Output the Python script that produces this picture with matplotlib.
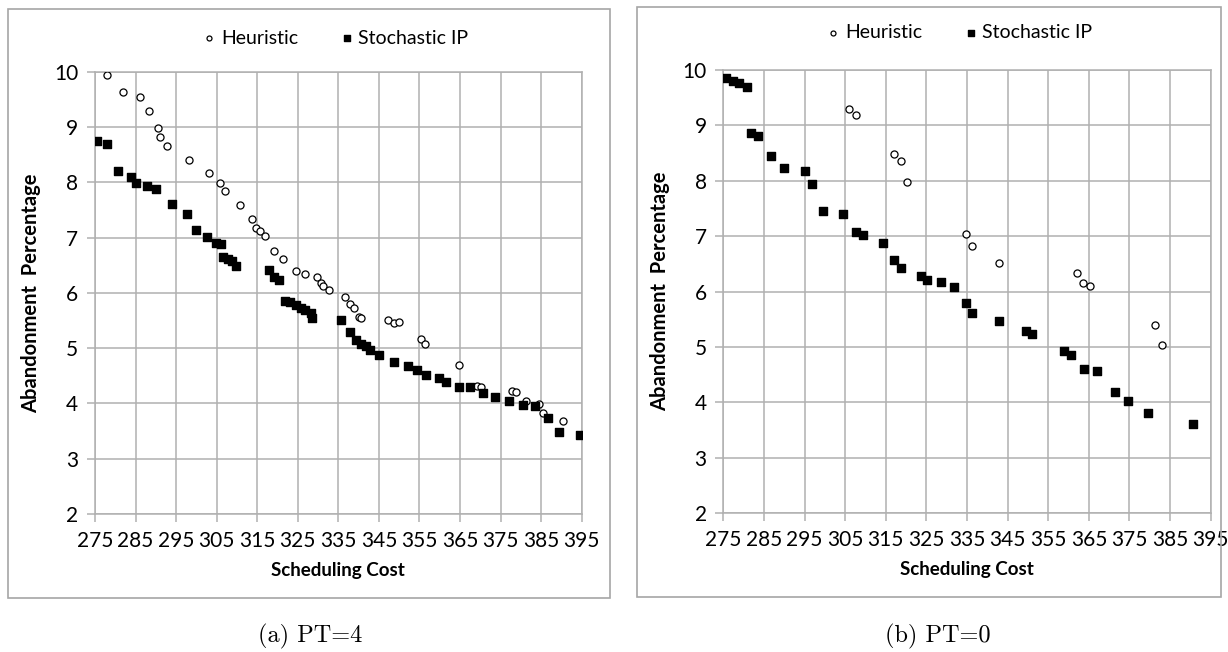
import matplotlib.pyplot as plt
from matplotlib.patches import Rectangle

plt.rcParams['font.family'] = ['Lato', 'DejaVu Sans']

# (a) PT=4
heur_a_x = [277.9, 281.8, 286.2, 288.2, 290.5, 291.1, 292.8, 298.2, 303.1, 305.8,
            307.0, 310.7, 313.6, 314.6, 315.8, 316.9, 319.1, 321.3, 324.6, 326.7,
            329.7, 330.6, 331.3, 332.8, 336.7, 337.8, 338.9, 340.1, 340.6, 347.2,
            348.8, 350.0, 355.3, 356.4, 364.8, 369.1, 370.1, 377.7, 378.9, 381.2,
            384.5, 385.5, 390.5]
heur_a_y = [9.94, 9.63, 9.54, 9.29, 8.98, 8.82, 8.66, 8.40, 8.17, 7.99,
            7.84, 7.59, 7.34, 7.17, 7.12, 7.02, 6.76, 6.61, 6.40, 6.34,
            6.28, 6.17, 6.13, 6.05, 5.93, 5.79, 5.72, 5.56, 5.55, 5.51,
            5.46, 5.47, 5.17, 5.07, 4.70, 4.32, 4.29, 4.23, 4.21, 4.05,
            3.99, 3.82, 3.68]
stoch_a_x = [275.6, 277.9, 280.6, 283.9, 285.0, 287.7, 290.0, 293.9, 297.7, 300.0,
             302.7, 304.8, 306.0, 306.5, 307.7, 308.9, 309.8, 318.0, 319.1, 320.4,
             321.8, 323.2, 324.6, 325.7, 326.9, 328.2, 328.5, 335.6, 337.8, 339.4,
             340.5, 341.7, 342.8, 345.0, 348.8, 352.1, 354.3, 356.5, 359.9, 361.5,
             364.8, 367.5, 370.7, 373.7, 377.0, 380.6, 383.5, 386.8, 389.5, 394.6]
stoch_a_y = [8.75, 8.69, 8.20, 8.09, 7.98, 7.94, 7.88, 7.60, 7.43, 7.14,
             7.01, 6.91, 6.88, 6.64, 6.61, 6.58, 6.49, 6.41, 6.29, 6.23,
             5.86, 5.84, 5.78, 5.73, 5.69, 5.64, 5.54, 5.50, 5.30, 5.14,
             5.08, 5.03, 4.96, 4.88, 4.75, 4.68, 4.60, 4.51, 4.46, 4.39,
             4.30, 4.29, 4.18, 4.11, 4.05, 3.97, 3.96, 3.74, 3.48, 3.42]

# (b) PT=0
heur_b_x = [306.0, 307.7, 317.0, 318.7, 320.3, 334.8, 336.3, 342.8, 362.0, 363.6,
            365.4, 381.4, 383.0]
heur_b_y = [9.30, 9.19, 8.48, 8.36, 7.98, 7.04, 6.82, 6.52, 6.33, 6.15,
            6.10, 5.40, 5.03]
stoch_b_x = [275.7, 277.3, 278.9, 280.8, 281.8, 283.6, 286.7, 290.0, 295.1, 296.8,
             299.5, 304.4, 307.7, 309.3, 314.2, 317.0, 318.7, 323.7, 325.2, 328.5,
             331.8, 334.8, 336.3, 342.8, 349.5, 351.1, 358.9, 360.5, 363.7, 367.1,
             371.4, 374.7, 379.6, 390.6]
stoch_b_y = [9.86, 9.80, 9.77, 9.70, 8.87, 8.80, 8.44, 8.24, 8.18, 7.94,
             7.46, 7.41, 7.07, 7.02, 6.87, 6.57, 6.43, 6.29, 6.21, 6.18,
             6.08, 5.80, 5.62, 5.47, 5.29, 5.24, 4.93, 4.86, 4.61, 4.57,
             4.19, 4.03, 3.81, 3.61]

x_ticks = list(range(275, 396, 10))
y_ticks = list(range(2, 11))

W, H = 1228, 652
fig = plt.figure(figsize=(W / 100, H / 100), dpi=100)

# panel frames (pixel boxes)
for (x0, y0, x1, y1) in [(8, 9, 610, 598), (637, 7, 1221, 597)]:
    fig.patches.append(Rectangle((x0 / W, 1 - y1 / H), (x1 - x0) / W, (y1 - y0) / H,
                                 transform=fig.transFigure, fill=False,
                                 edgecolor='#a6a6a6', linewidth=1.2))

panels = [
    ((95, 71.7, 581.7, 514), heur_a_x, heur_a_y, stoch_a_x, stoch_a_y, 334, 38, 310, '(a) PT=4'),
    ((723.3, 70, 1210.7, 513.3), heur_b_x, heur_b_y, stoch_b_x, stoch_b_y, 958, 33, 938, '(b) PT=0'),
]

grid_col = '#b0b0b0'
for (px0, py0, px1, py1), hx, hy, sx, sy, leg_x, leg_y, cap_x, caption in panels:
    ax = fig.add_axes([px0 / W, 1 - py1 / H, (px1 - px0) / W, (py1 - py0) / H])
    ax.scatter(hx, hy, marker='o', s=26, facecolor='white', edgecolor='black',
               linewidth=0.9, label='Heuristic', zorder=3)
    ax.scatter(sx, sy, marker='s', s=34, color='black', label='Stochastic IP', zorder=3)
    ax.set_xlim(275, 395)
    ax.set_ylim(2, 10)
    ax.set_xticks(x_ticks)
    ax.set_yticks(y_ticks)
    ax.grid(True, color=grid_col, linewidth=1.1)
    ax.set_axisbelow(True)
    for sp in ax.spines.values():
        sp.set_color(grid_col)
        sp.set_linewidth(1.1)
    ax.tick_params(axis='both', length=6, width=1.1, color=grid_col,
                   labelsize=15, pad=6)
    ax.set_xlabel('Scheduling Cost', fontsize=13.5, fontweight='bold', labelpad=8)
    ax.set_ylabel('Abandonment  Percentage', fontsize=14.5, fontweight='bold', labelpad=9)
    ax.legend(loc='center', bbox_to_anchor=(leg_x / W, 1 - leg_y / H),
              bbox_transform=fig.transFigure, ncol=2, frameon=False,
              fontsize=14, markerscale=0.7, handletextpad=0.1,
              columnspacing=2.0, handlelength=1.0)
    fig.text(cap_x / W, 1 - 636 / H, caption, ha='center', va='center',
             fontsize=17.5, family='cmr10')

fig.savefig('out.png', dpi=100)
